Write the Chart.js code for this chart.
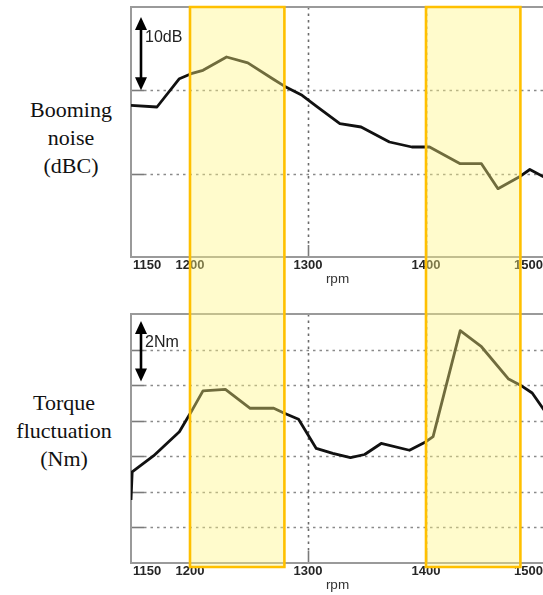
<!DOCTYPE html>
<html><head><meta charset="utf-8">
<script src="https://cdn.jsdelivr.net/npm/chart.js@4.4.1/dist/chart.umd.min.js"></script>
<style>
html,body{margin:0;padding:0;width:543px;height:595px;overflow:hidden;background:#fff;}
.lab{position:absolute;font-family:'Liberation Serif','Times New Roman',serif;font-size:22px;line-height:28px;text-align:center;color:#111;}
#c1{position:absolute;left:0;top:0;}
#c2{position:absolute;left:0;top:300px;}
</style></head><body>
<div class="lab" style="left:0;top:96px;width:142px">Booming<br>noise<br>(dBC)</div>
<div class="lab" style="left:0;top:389px;width:128px">Torque<br>fluctuation<br>(Nm)</div>
<canvas id="c1" width="560" height="300"></canvas>
<canvas id="c2" width="560" height="295"></canvas>
<script>
// ---- data ----
const rpmTickLabels = [1150, 1200, 1300, 1400, 1500];
const rpmGridLines = [1300, 1400];
const highlightBands = [[1200, 1280], [1400, 1480]];
const xAxisTitle = 'rpm';

const noiseRpm = [1150, 1172, 1191, 1201, 1211, 1231, 1249, 1271, 1280, 1295, 1307, 1327, 1345, 1369, 1388, 1403, 1429, 1447, 1461, 1480, 1488, 1500];
const noiseDb  = [18.2, 18.0, 21.4, 22.0, 22.4, 24.0, 23.3, 21.3, 20.5, 19.4, 18.1, 16.0, 15.6, 13.8, 13.2, 13.2, 11.2, 11.2, 8.2, 9.7, 10.5, 9.6];
const noiseGrid = [10, 20];
const noiseScaleBar = [20, 28.8];
const noiseScaleLabel = '10dB';

const torqueRpm = [1150, 1151, 1169, 1191, 1201, 1211, 1230, 1251, 1271, 1280, 1292, 1307, 1321, 1336, 1348, 1362, 1386, 1400, 1406, 1429, 1447, 1470, 1480, 1490, 1500];
const torqueNm  = [1.77, 2.56, 3.01, 3.69, 4.25, 4.84, 4.88, 4.35, 4.35, 4.21, 4.04, 3.22, 3.08, 2.96, 3.05, 3.36, 3.17, 3.41, 3.55, 6.53, 6.08, 5.17, 5.00, 4.78, 4.30];
const torqueGrid = [1, 2, 3, 4, 5, 6];
const torqueScaleBar = [5.1, 6.8];
const torqueScaleLabel = '2Nm';

// ---- drawing helpers ----
function panelPlugin(cfg) {
  return {
    id: 'panel',
    beforeDatasetsDraw(chart) {
      const { ctx, chartArea: a, scales: { x, y } } = chart;
      ctx.save();
      ctx.lineWidth = 1.6;
      ctx.strokeStyle = '#8a8a8a';
      ctx.setLineDash([2.5, 4]);
      cfg.yGrid.forEach(v => {
        const py = Math.round(y.getPixelForValue(v)) + 0.5;
        ctx.beginPath(); ctx.moveTo(a.left + 13, py); ctx.lineTo(a.right, py); ctx.stroke();
      });
      ctx.strokeStyle = '#6a6a6a';
      rpmGridLines.forEach(v => {
        const px = Math.round(x.getPixelForValue(v)) + 0.5;
        ctx.beginPath(); ctx.moveTo(px, a.top); ctx.lineTo(px, a.bottom - 12); ctx.stroke();
      });
      ctx.setLineDash([]);
      ctx.strokeStyle = '#7a7a7a';
      cfg.yGrid.forEach(v => {
        const py = Math.round(y.getPixelForValue(v)) + 0.5;
        ctx.beginPath(); ctx.moveTo(a.left, py); ctx.lineTo(a.left + 13, py); ctx.stroke();
      });
      rpmGridLines.forEach(v => {
        const px = Math.round(x.getPixelForValue(v)) + 0.5;
        ctx.beginPath(); ctx.moveTo(px, a.bottom); ctx.lineTo(px, a.bottom - 12); ctx.stroke();
      });
      ctx.strokeStyle = '#9a9a9a';
      ctx.lineWidth = 2;
      ctx.beginPath();
      ctx.moveTo(a.right + 10, a.top); ctx.lineTo(a.left, a.top);
      ctx.lineTo(a.left, a.bottom); ctx.lineTo(a.right + 10, a.bottom);
      ctx.stroke();
      ctx.restore();
    },
    afterDraw(chart) {
      const { ctx, chartArea: a, scales: { x, y } } = chart;
      ctx.save();
      ctx.fillStyle = '#262626';
      ctx.font = 'bold 13px "Liberation Sans", Arial, sans-serif';
      ctx.textBaseline = 'middle';
      rpmTickLabels.forEach((v, i) => {
        let px = x.getPixelForValue(v);
        if (i === 0) { ctx.textAlign = 'left'; px += 2; }
        else if (i === rpmTickLabels.length - 1) { ctx.textAlign = 'right'; px -= 1; }
        else ctx.textAlign = 'center';
        ctx.fillText(String(v), px, a.bottom + 8.5);
      });
      ctx.font = '13.5px "Liberation Sans", Arial, sans-serif';
      ctx.fillStyle = '#333';
      ctx.textAlign = 'center';
      ctx.fillText(xAxisTitle, (a.left + a.right) / 2, a.bottom + 22);

      // scale bar arrow
      const ax = a.left + 10;
      const y0 = y.getPixelForValue(cfg.bar[0]);
      const y1 = y.getPixelForValue(cfg.bar[1]);
      ctx.strokeStyle = '#000'; ctx.fillStyle = '#000'; ctx.lineWidth = 2.6;
      ctx.beginPath(); ctx.moveTo(ax, y0 - 8); ctx.lineTo(ax, y1 + 8); ctx.stroke();
      ctx.beginPath(); ctx.moveTo(ax, y1); ctx.lineTo(ax - 6, y1 + 13); ctx.lineTo(ax + 6, y1 + 13); ctx.closePath(); ctx.fill();
      ctx.beginPath(); ctx.moveTo(ax, y0); ctx.lineTo(ax - 6, y0 - 13); ctx.lineTo(ax + 6, y0 - 13); ctx.closePath(); ctx.fill();
      ctx.font = '16px "Liberation Sans", Arial, sans-serif';
      ctx.fillStyle = '#222';
      ctx.textAlign = 'left';
      ctx.fillText(cfg.barLabel, ax + 4, y1 + 21);

      // highlight bands
      const top = cfg.side === 'top' ? a.top : 0;
      const bot = cfg.side === 'top' ? chart.height : a.bottom + 4;
      highlightBands.forEach(([r0, r1]) => {
        const x0 = x.getPixelForValue(r0), x1 = x.getPixelForValue(r1);
        ctx.fillStyle = 'rgba(255,245,128,0.4)';
        ctx.fillRect(x0, top, x1 - x0, bot - top);
        ctx.strokeStyle = '#ffc000';
        ctx.lineWidth = 2.6;
        ctx.beginPath();
        if (cfg.side === 'top') {
          ctx.moveTo(x0, bot); ctx.lineTo(x0, top); ctx.lineTo(x1, top); ctx.lineTo(x1, bot);
        } else {
          ctx.moveTo(x0, top); ctx.lineTo(x0, bot); ctx.lineTo(x1, bot); ctx.lineTo(x1, top);
        }
        ctx.stroke();
      });
      ctx.restore();
    }
  };
}

function makeChart(id, xs, ys, yMax, pad, cfg) {
  return new Chart(document.getElementById(id), {
    type: 'line',
    data: {
      datasets: [{
        data: xs.map((r, i) => ({ x: r, y: ys[i] })),
        borderColor: '#111',
        borderWidth: 2.8,
        borderJoinStyle: 'round',
        pointRadius: 0,
        tension: 0,
        fill: false
      }]
    },
    options: {
      responsive: false,
      animation: false,
      events: [],
      layout: { padding: pad },
      plugins: { legend: { display: false }, tooltip: { enabled: false } },
      scales: {
        x: { type: 'linear', min: 1150, max: 1500, display: false },
        y: { min: 0, max: yMax, display: false }
      }
    },
    plugins: [panelPlugin(cfg)]
  });
}

makeChart('c1', noiseRpm, noiseDb, 30, { left: 131, right: 16, top: 7, bottom: 43 },
  { side: 'top', yGrid: noiseGrid, bar: noiseScaleBar, barLabel: noiseScaleLabel });
makeChart('c2', torqueRpm, torqueNm, 7, { left: 131, right: 16, top: 14, bottom: 32 },
  { side: 'bottom', yGrid: torqueGrid, bar: torqueScaleBar, barLabel: torqueScaleLabel });
</script>
</body></html>
